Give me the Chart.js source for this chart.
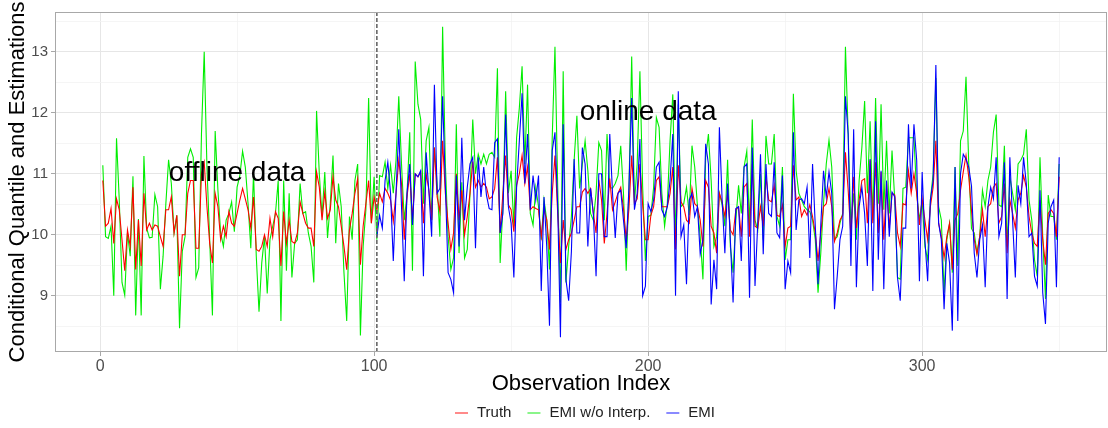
<!DOCTYPE html>
<html>
<head>
<meta charset="utf-8">
<script src="https://cdn.jsdelivr.net/npm/chart.js@4.4.1/dist/chart.umd.min.js"></script>
<style>
html, body { margin: 0; padding: 0; background: #fff; }
canvas { display: block; }
</style>
</head>
<body>
<canvas id="chart" width="1108" height="428"></canvas>
<script>
// Truth, observations 1..350
const truth = [
  10.89,10.14,10.19,10.43,9.86,10.59,10.41,9.92,9.41,10.08,
  9.81,10.78,9.43,10.24,9.49,10.68,10.08,10.19,10.08,10.16,
  10.14,9.97,9.81,10.41,10.41,10.62,10.03,10.32,9.32,10.00,
  10.00,10.68,10.89,10.89,9.78,9.78,11.00,11.19,10.46,9.86,
  9.54,10.68,10.46,9.92,10.14,9.97,10.38,10.19,10.14,10.35,
  10.57,10.76,10.59,10.41,10.11,10.62,9.76,9.73,9.81,10.00,
  9.81,10.27,9.97,10.38,10.27,9.49,10.38,9.86,10.24,9.89,
  9.86,10.03,10.54,10.35,10.19,10.11,10.11,9.81,11.03,10.78,
  10.24,10.70,10.27,10.41,10.95,10.57,10.46,10.14,9.81,9.43,
  10.08,10.35,10.68,10.92,9.51,10.14,10.51,10.89,10.19,10.62,
  10.41,10.68,10.54,10.76,10.68,10.57,10.22,10.68,11.22,10.84,
  9.92,10.62,11.00,10.24,11.00,10.95,11.03,10.19,11.00,10.73,
  10.24,11.43,10.62,10.38,11.54,10.68,10.19,9.76,10.03,11.00,
  10.24,10.73,10.00,10.30,10.68,11.20,10.78,10.89,10.78,10.84,
  10.78,10.59,10.62,10.76,11.27,10.03,10.68,11.30,10.49,10.41,
  10.05,10.81,11.00,11.30,10.84,11.11,10.41,10.46,10.43,10.41,
  9.97,10.41,10.24,9.76,10.68,11.30,10.35,9.54,10.24,9.76,
  9.92,10.03,10.24,10.46,10.46,10.70,10.76,10.68,10.76,10.35,
  10.03,10.90,10.57,9.86,10.35,10.92,10.41,10.54,10.68,10.78,
  10.43,9.92,10.43,11.30,10.51,10.59,11.16,10.49,9.92,9.92,
  10.32,10.46,10.89,10.95,10.46,10.46,10.46,10.68,11.11,9.76,
  11.14,10.54,10.46,10.24,10.19,10.76,10.51,10.46,10.24,9.81,
  10.89,10.78,10.14,10.03,9.70,10.68,10.54,10.30,10.68,10.08,
  10.00,10.41,10.46,9.97,10.78,10.84,9.97,11.16,10.14,10.11,
  10.46,10.14,10.95,10.57,10.54,10.81,10.32,10.30,10.49,9.81,
  10.11,10.14,11.14,10.57,10.62,10.30,10.41,10.32,10.49,10.30,
  10.03,9.57,10.03,10.46,10.51,10.76,10.46,9.89,10.03,10.24,
  10.32,11.35,10.73,9.97,10.95,10.11,10.57,10.89,10.92,10.19,
  11.22,10.19,11.19,10.03,11.03,9.92,10.86,10.11,10.68,10.65,
  10.03,9.81,10.51,10.49,11.05,10.68,11.00,10.68,10.16,10.59,
  10.24,9.92,10.46,10.78,11.54,10.19,9.97,9.62,9.97,10.19,
  9.43,10.24,10.35,10.73,11.03,11.30,10.95,10.40,9.92,9.68,
  9.97,10.41,9.97,10.46,10.51,10.78,10.84,10.19,10.30,10.84,
  9.70,10.57,10.35,10.11,10.57,10.68,10.97,10.78,10.30,10.03,
  9.86,9.81,10.57,9.92,9.51,10.35,10.41,10.35,9.97,10.95
];

// EMI without interpolation, observations 1..350
const emiNoInterp = [
  11.14,9.97,9.94,10.14,9.00,11.58,10.57,9.22,9.01,10.03,
  9.65,10.96,8.68,10.26,8.68,11.29,10.11,9.95,9.96,10.66,
  10.46,9.11,9.65,10.51,11.23,10.84,10.03,10.32,8.47,9.73,
  9.97,11.27,11.41,11.27,9.30,9.46,11.65,13.00,11.11,9.92,
  8.68,11.70,10.73,10.03,9.81,10.24,10.35,10.54,10.05,10.78,
  10.97,11.37,11.11,10.51,9.78,11.00,9.65,8.74,9.54,9.97,
  9.04,9.92,10.14,10.35,10.89,8.59,10.89,9.41,10.68,9.30,
  9.86,9.92,10.84,10.35,10.38,10.03,9.81,9.22,12.03,11.00,
  10.30,11.03,9.95,10.51,11.30,9.86,10.84,10.46,9.38,8.59,
  10.30,9.92,10.89,11.16,8.35,9.81,10.41,12.24,10.19,10.95,
  9.92,10.97,10.95,11.19,10.76,11.14,10.68,11.22,12.27,11.16,
  10.24,10.65,11.68,9.41,12.84,12.14,11.89,10.51,11.54,11.76,
  10.24,11.43,10.84,9.97,13.41,11.16,9.97,9.43,9.62,11.81,
  9.70,10.86,9.62,9.76,10.68,11.89,11.00,11.32,11.16,11.32,
  11.16,11.32,11.35,11.27,12.73,9.54,10.46,12.35,10.68,11.05,
  10.14,11.59,12.08,12.76,11.16,12.46,10.35,10.16,10.78,10.46,
  9.92,10.57,10.24,9.43,11.59,13.08,10.78,8.89,12.68,9.22,
  9.81,10.30,11.22,11.95,10.76,11.16,11.54,11.05,10.35,10.24,
  10.68,11.51,11.38,10.24,11.65,10.78,10.76,10.84,10.97,11.46,
  10.68,9.41,10.76,12.92,10.51,11.16,12.68,10.78,9.57,10.30,
  10.32,10.78,11.92,11.76,10.68,10.14,10.51,11.54,12.30,9.84,
  12.14,10.46,10.51,10.78,10.32,11.46,11.11,10.46,9.97,9.27,
  11.27,11.65,10.89,9.81,9.97,10.68,10.49,10.14,11.23,9.81,
  9.38,10.24,10.81,10.35,11.11,11.37,10.14,11.89,10.24,10.08,
  11.00,9.92,11.62,11.16,11.16,11.65,10.30,10.14,11.11,9.59,
  9.92,9.92,12.31,11.05,10.68,10.57,10.46,10.41,10.38,10.24,
  9.92,9.05,9.70,10.51,11.16,11.55,11.11,9.92,9.97,10.19,
  10.35,13.08,11.65,10.14,10.68,9.92,10.89,11.43,12.19,10.68,
  11.86,10.24,12.24,10.51,12.14,10.41,11.54,10.35,11.38,10.57,
  9.30,9.27,10.76,10.78,11.59,11.59,11.59,10.68,10.24,10.57,
  9.81,9.59,10.57,11.00,12.57,10.46,10.24,9.05,9.92,10.19,
  9.38,11.11,9.49,11.54,11.70,12.59,11.16,10.10,10.03,9.70,
  9.97,10.73,10.46,10.89,11.11,11.68,11.97,10.49,10.46,11.46,
  9.81,10.95,10.68,10.41,11.16,11.22,11.32,11.73,10.57,10.24,
  9.59,9.32,11.27,9.97,8.95,10.65,10.30,10.30,9.92,11.16
];

// EMI, online part only: observations 101..350
const emiStart = 101;
const emi = [
  9.97,10.32,10.11,10.89,11.19,10.68,9.57,10.68,11.73,10.46,
  9.24,10.68,11.16,10.16,11.00,10.95,11.05,9.32,11.35,10.70,
  9.97,12.46,10.68,10.76,12.27,10.81,9.38,9.27,9.05,10.97,
  9.81,11.59,10.24,10.78,11.16,11.27,9.78,11.27,10.62,11.11,
  10.65,10.43,10.41,11.51,11.57,10.03,10.35,11.97,10.46,10.19,
  9.30,10.78,11.54,12.32,10.84,11.65,10.41,10.97,10.57,10.97,
  9.08,10.62,9.81,8.51,11.38,11.68,10.46,8.32,11.81,9.27,
  8.92,9.73,11.24,10.03,10.03,11.43,11.16,9.81,10.76,10.35,
  9.32,11.00,11.00,9.97,9.97,11.65,10.68,9.95,10.68,10.73,
  10.24,9.78,10.78,12.24,10.41,10.68,11.57,9.00,9.16,10.51,
  10.38,10.57,11.11,11.19,10.41,10.30,10.46,10.89,11.65,9.00,
  12.35,9.97,10.16,9.19,10.57,10.68,10.30,10.46,9.68,9.92,
  11.49,11.16,8.86,9.59,9.11,11.76,10.57,9.70,10.84,9.92,
  8.89,10.43,10.46,9.57,11.11,11.16,8.97,11.43,9.16,10.19,
  11.32,9.68,11.16,10.35,10.30,11.19,10.03,9.95,10.97,9.11,
  9.57,9.38,11.68,10.08,10.57,10.59,10.51,10.78,9.62,11.16,
  10.14,9.19,10.16,11.05,10.62,11.03,10.68,8.78,9.32,9.92,
  10.14,12.27,11.65,9.49,11.73,9.14,10.46,10.78,10.35,9.49,
  11.24,9.08,11.86,9.59,11.05,9.11,10.89,9.97,10.70,10.62,
  9.30,8.92,10.11,10.11,11.81,10.76,11.81,11.22,9.24,11.03,
  9.92,9.24,10.57,10.89,12.78,10.19,9.92,8.78,9.86,9.54,
  8.43,11.11,8.59,11.00,11.32,11.24,11.11,10.80,9.70,9.30,
  9.92,10.16,9.14,10.46,10.78,10.59,11.27,9.97,10.19,11.19,
  8.95,11.27,10.24,9.30,10.81,10.51,11.27,10.84,9.97,10.03,
  9.32,9.16,10.73,9.05,8.54,10.19,10.46,10.57,9.14,11.27
];

const splitAt = 101;          // where the online data starts (dashed line)
const xMajor = [0, 100, 200, 300];
const yMajor = [9, 10, 11, 12, 13];
const labels = [
  { text: 'offline data', x: 50, y: 11 },
  { text: 'online data', x: 200, y: 12 }
];

const FONT = '"Liberation Sans", Arial, sans-serif';
const toPoints = (arr, start) => arr.map((v, i) => ({ x: start + i, y: v }));
const isMajor = (ticks, v) => ticks.some(t => Math.abs(t - v) < 1e-6);

// panel border, split line and the two text labels
const extras = {
  id: 'extras',
  afterDatasetsDraw(chart) {
    const { ctx, chartArea: a, scales: { x, y } } = chart;
    ctx.save();
    const sx = x.getPixelForValue(splitAt);
    ctx.strokeStyle = '#666';
    ctx.lineWidth = 1.6;
    ctx.setLineDash([4, 2]);
    ctx.beginPath();
    ctx.moveTo(sx, a.top);
    ctx.lineTo(sx, a.bottom);
    ctx.stroke();
    ctx.setLineDash([]);

    ctx.fillStyle = '#000';
    ctx.font = '28px ' + FONT;
    ctx.textAlign = 'center';
    ctx.textBaseline = 'middle';
    labels.forEach(l => ctx.fillText(l.text, x.getPixelForValue(l.x), y.getPixelForValue(l.y)));

    ctx.strokeStyle = '#A8A8A8';
    ctx.lineWidth = 1;
    ctx.strokeRect(a.left + 0.5, a.top + 0.5, a.right - a.left - 1, a.bottom - a.top - 1);
    ctx.restore();
  },
  afterDraw(chart) {
    // legend at the bottom, ggplot style
    const { ctx } = chart;
    const items = chart.data.datasets.map(d => ({ text: d.label, color: d.legendColor }));
    ctx.save();
    ctx.font = '15px ' + FONT;
    const seg = 13, gap = 9, space = 16;
    let total = 0;
    items.forEach((it, i) => {
      it.w = ctx.measureText(it.text).width;
      total += seg + gap + it.w + (i ? space : 0);
    });
    let cx = 585 - total / 2;
    const cy = 413;
    ctx.textBaseline = 'middle';
    ctx.textAlign = 'left';
    items.forEach((it, i) => {
      if (i) cx += space;
      ctx.strokeStyle = it.color;
      ctx.lineWidth = 2;
      ctx.beginPath();
      ctx.moveTo(cx, cy);
      ctx.lineTo(cx + seg, cy);
      ctx.stroke();
      cx += seg + gap;
      ctx.fillStyle = '#222';
      ctx.fillText(it.text, cx, cy);
      cx += it.w;
    });
    ctx.restore();
  }
};

new Chart(document.getElementById('chart'), {
  type: 'line',
  data: {
    datasets: [
      { label: 'Truth', data: toPoints(truth, 1), borderColor: '#FF0000', legendColor: '#FF8A8A', order: 1 },
      { label: 'EMI w/o Interp.', data: toPoints(emiNoInterp, 1), borderColor: '#00EE00', legendColor: '#8AF58A', order: 2 },
      { label: 'EMI', data: toPoints(emi, emiStart), borderColor: '#0000FF', legendColor: '#8A8AFF', order: 0 }
    ]
  },
  options: {
    responsive: false,
    devicePixelRatio: 1,
    animation: false,
    layout: { padding: { top: 8, right: 1, bottom: 30, left: 0 } },
    elements: {
      point: { radius: 0 },
      line: { borderWidth: 1.1, tension: 0 }
    },
    plugins: { legend: { display: false }, tooltip: { enabled: false } },
    scales: {
      x: {
        type: 'linear',
        min: -16.45,
        max: 367.45,
        afterFit: s => { s.height = 46; },
        border: { display: false },
        grid: {
          color: c => isMajor(xMajor, c.tick.value) ? '#E6E6E6' : '#F3F3F3',
          lineWidth: c => isMajor(xMajor, c.tick.value) ? 1 : 0.8,
          tickColor: c => isMajor(xMajor, c.tick.value) ? '#A8A8A8' : 'rgba(0,0,0,0)',
          tickLength: 4
        },
        ticks: {
          stepSize: 50,
          includeBounds: false,
          autoSkip: false,
          maxRotation: 0,
          padding: 1,
          color: '#4D4D4D',
          font: { family: FONT, size: 16 },
          callback: v => isMajor(xMajor, v) ? String(v) : ''
        },
        title: {
          display: true,
          text: 'Observation Index',
          color: '#000',
          font: { family: FONT, size: 22 },
          padding: { top: 0, bottom: 1 }
        }
      },
      y: {
        min: 8.08,
        max: 13.65,
        afterFit: s => { s.width = 55; },
        border: { display: false },
        grid: {
          color: c => isMajor(yMajor, c.tick.value) ? '#E6E6E6' : '#F3F3F3',
          lineWidth: c => isMajor(yMajor, c.tick.value) ? 1 : 0.8,
          tickColor: c => isMajor(yMajor, c.tick.value) ? '#A8A8A8' : 'rgba(0,0,0,0)',
          tickLength: 4
        },
        ticks: {
          stepSize: 0.5,
          includeBounds: false,
          autoSkip: false,
          padding: 3,
          color: '#4D4D4D',
          font: { family: FONT, size: 15 },
          callback: v => isMajor(yMajor, v) ? String(Math.round(v)) : ''
        },
        title: {
          display: true,
          text: 'Conditional Quantile and Estimations',
          color: '#000',
          font: { family: FONT, size: 22 },
          padding: { top: 5, bottom: 0 }
        }
      }
    }
  },
  plugins: [extras]
});
</script>
</body>
</html>
